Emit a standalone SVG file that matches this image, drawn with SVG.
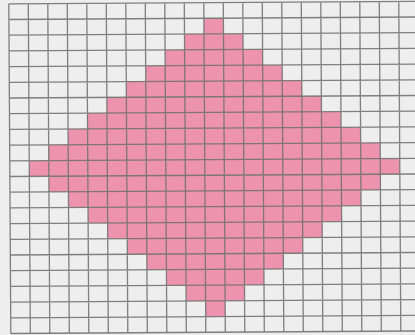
<svg xmlns="http://www.w3.org/2000/svg" width="415" height="335" viewBox="0 0 415 335">
<style>
.bg{fill:#efeeef}
.fill{fill:#ee93ad}
.grid{fill:none;stroke:#727272;stroke-width:1.3;stroke-opacity:0.9}
</style>
<rect class="bg" x="0" y="0" width="415" height="335"/>
<g id="diagram" transform="rotate(-0.35 205 168) translate(9.8 2.6) scale(19.5 15.7)">
<polygon id="diamond" class="fill" points="10,1 11,1 11,2 12,2 12,3 13,3 13,4 14,4 14,5 15,5 15,6 16,6 16,7 17,7 17,8 18,8 18,9 19,9 19,10 20,10 20,11 19,11 19,12 18,12 18,13 17,13 17,14 16,14 16,15 15,15 15,16 14,16 14,17 13,17 13,18 12,18 12,19 11,19 11,20 10,20 10,19 9,19 9,18 8,18 8,17 7,17 7,16 6,16 6,15 5,15 5,14 4,14 4,13 3,13 3,12 2,12 2,11 1,11 1,10 2,10 2,9 3,9 3,8 4,8 4,7 5,7 5,6 6,6 6,5 7,5 7,4 8,4 8,3 9,3 9,2 10,2"/>
<path id="grid" class="grid" vector-effect="non-scaling-stroke" d="M0 0V21M1 0V21M2 0V21M3 0V21M4 0V21M5 0V21M6 0V21M7 0V21M8 0V21M9 0V21M10 0V21M11 0V21M12 0V21M13 0V21M14 0V21M15 0V21M16 0V21M17 0V21M18 0V21M19 0V21M20 0V21M0 0H21M0 1H21M0 2H21M0 3H21M0 4H21M0 5H21M0 6H21M0 7H21M0 8H21M0 9H21M0 10H21M0 11H21M0 12H21M0 13H21M0 14H21M0 15H21M0 16H21M0 17H21M0 18H21M0 19H21M0 20H21M0 21H21"/>
</g>
</svg>
